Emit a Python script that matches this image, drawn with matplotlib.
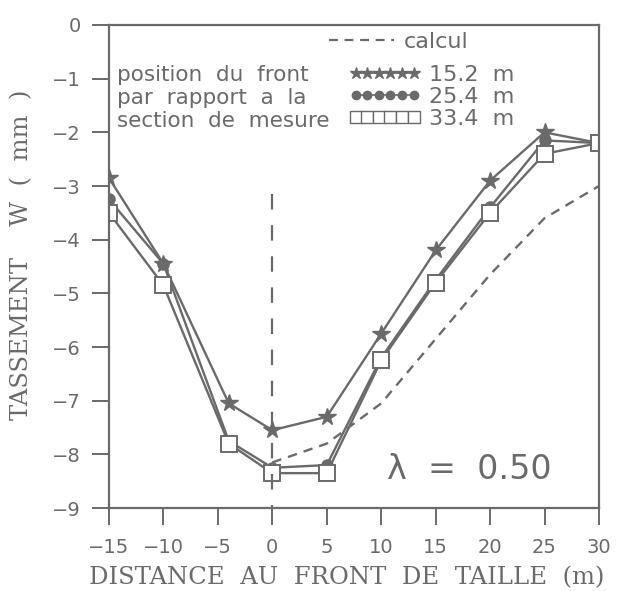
import matplotlib.pyplot as plt
from matplotlib.lines import Line2D

# distance au front de taille (m)
distance = [-15, -10, -4, 0, 5, 10, 15, 20, 25, 30]

# tassement W (mm) pour chaque position du front
w_152 = [-2.85, -4.45, -7.05, -7.55, -7.3, -5.75, -4.2, -2.9, -2.0, -2.2]
w_254 = [-3.25, -4.45, -7.75, -8.25, -8.2, -6.2, -4.75, -3.4, -2.15, -2.2]
w_334 = [-3.5, -4.85, -7.8, -8.35, -8.35, -6.25, -4.8, -3.5, -2.4, -2.2]

# courbe calculee
distance_calc = [0, 5, 10, 15, 20, 25, 30]
w_calc = [-8.15, -7.8, -7.05, -5.85, -4.65, -3.6, -3.0]

front_labels = ["15.2  m", "25.4  m", "33.4  m"]
x_ticks = [-15, -10, -5, 0, 5, 10, 15, 20, 25, 30]
y_ticks = [0, -1, -2, -3, -4, -5, -6, -7, -8, -9]

gris = "#6a6a6a"
plt.rcParams["font.family"] = "DejaVu Sans"

fig = plt.figure(figsize=(6.21, 5.91), dpi=100)
ax = fig.add_axes([0.1755, 0.1404, 0.789, 0.8173])

ax.plot(distance, w_152, "-", color=gris, lw=1.7, marker="*", ms=13)
ax.plot(distance, w_254, "-", color=gris, lw=1.7, marker="o", ms=8)
ax.plot(distance, w_334, "-", color=gris, lw=1.7, marker="s", ms=11,
        mfc="white", mew=1.4)
ax.plot(distance_calc, w_calc, "--", color=gris, lw=1.7, dashes=(4, 3))

# ligne verticale au front
ax.plot([0, 0], [-3.15, -9], color=gris, lw=1.6, dashes=(7, 7))

ax.set_xlim(-15, 30)
ax.set_ylim(-9, 0)
ax.set_xticks(x_ticks)
ax.set_yticks(y_ticks)
ax.set_xticklabels(["\u2212%d" % -v if v < 0 else str(v) for v in x_ticks])
ax.set_yticklabels(["\u2212%d" % -v if v < 0 else str(v) for v in y_ticks])
ax.tick_params(direction="out", length=12.5, width=1.4, colors=gris,
               labelsize=14)
ax.tick_params(axis="y", pad=8)
ax.tick_params(axis="x", pad=9)
for s in ax.spines.values():
    s.set_color(gris)
    s.set_linewidth(1.6)

ax.set_xlabel("DISTANCE  AU  FRONT  DE  TAILLE  (m)", family="DejaVu Serif",
              fontsize=17.5, color=gris, va="center")
ax.set_ylabel("TASSEMENT    W  (  mm  )", family="DejaVu Serif",
              fontsize=17.5, color=gris, va="center")
ax.xaxis.set_label_coords(0.486, -0.145)
ax.yaxis.set_label_coords(-0.178, 0.525)

# legendes
h_calc = [Line2D([], [], color=gris, lw=1.6, ls="--", dashes=(4, 3))]
leg1 = ax.legend(h_calc, ["calcul"], loc="center left",
                 bbox_to_anchor=(0.45, 0.965), frameon=False, fontsize=16,
                 handlelength=2.9, handletextpad=0.45, labelcolor=gris,
                 borderpad=0, borderaxespad=0)
ax.add_artist(leg1)

handles = [
    Line2D([], [], color=gris, lw=1.2, marker="*", ms=9),
    Line2D([], [], color=gris, lw=1.2, marker="o", ms=6),
    Line2D([], [], color=gris, lw=1.2, marker="s", ms=8, mfc="white"),
]
ax.legend(handles, front_labels, loc="upper left", numpoints=6,
          bbox_to_anchor=(0.49, 0.918), frameon=False, fontsize=16,
          handlelength=3.2, handletextpad=0.4, labelspacing=0.1,
          labelcolor=gris, borderpad=0, borderaxespad=0)

ax.text(-14.3, -0.93, "position  du  front", fontsize=15.5, color=gris,
        va="center")
ax.text(-14.3, -1.36, "par  rapport  a  la", fontsize=15.5, color=gris,
        va="center")
ax.text(-14.3, -1.79, "section  de  mesure", fontsize=15.5, color=gris,
        va="center")

ax.text(18.1, -8.29, "\u03bb  =  0.50", fontsize=24, color=gris,
        ha="center", va="center")

fig.savefig("out.png", dpi=100)
